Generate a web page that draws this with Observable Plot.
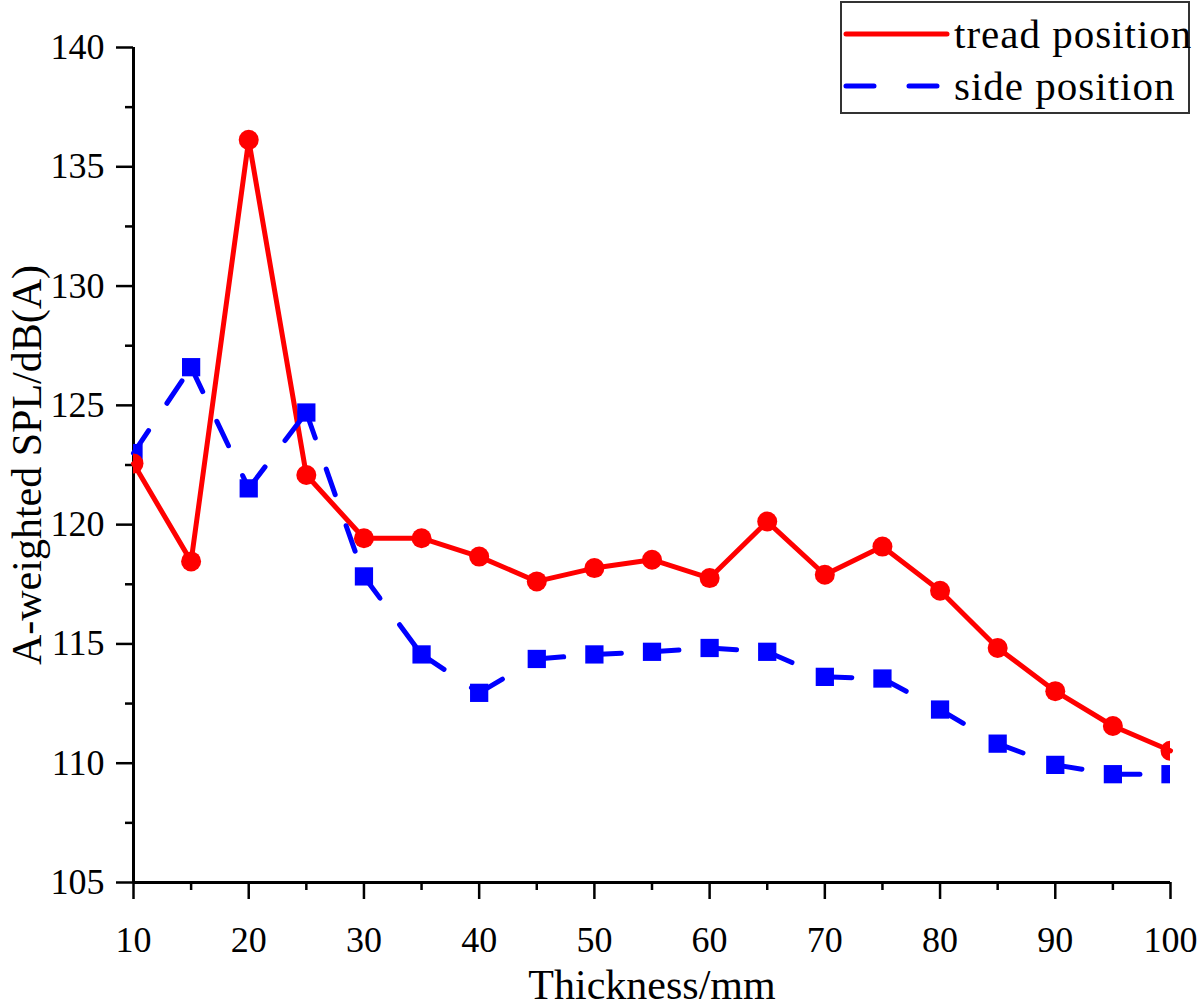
<!DOCTYPE html>
<html>
<head>
<meta charset="utf-8">
<script src="https://cdn.jsdelivr.net/npm/d3@7"></script>
<script src="https://cdn.jsdelivr.net/npm/@observablehq/plot@0.6"></script>
</head>
<body style="margin:0;padding:0;background:#fff;">
<div id="wrap" style="position:relative;width:1200px;height:1008px;overflow:hidden;font-family:'Liberation Serif', serif;">
  <div id="chart"></div>
  <div id="legend" style="position:absolute;left:840px;top:1px;width:350px;height:113px;border:2px solid #333;background:#fff;box-sizing:border-box;">
    <div style="position:absolute;left:0;top:6px;height:50px;display:flex;align-items:center;white-space:nowrap;">
      <svg width="110" height="20" style="margin-left:1px"><line x1="3" y1="10" x2="104" y2="10" stroke="#ff0000" stroke-width="5" stroke-linecap="round"/></svg>
      <span style="font-family:'Liberation Serif', serif;font-size:41px;letter-spacing:1px;color:#000;margin-left:1px;line-height:1;white-space:nowrap;">tread position</span>
    </div>
    <div style="position:absolute;left:0;top:58px;height:50px;display:flex;align-items:center;white-space:nowrap;">
      <svg width="110" height="20" style="margin-left:1px"><line x1="3" y1="10" x2="104" y2="10" stroke="#0000ff" stroke-width="5" stroke-linecap="round" stroke-dasharray="28,35"/></svg>
      <span style="font-family:'Liberation Serif', serif;font-size:41px;letter-spacing:1px;color:#000;margin-left:1px;line-height:1;white-space:nowrap;">side position</span>
    </div>
  </div>
</div>
<script>
// Data
const thickness = [10, 15, 20, 25, 30, 35, 40, 45, 50, 55, 60, 65, 70, 75, 80, 85, 90, 95, 100];
const tread = [122.56, 118.46, 136.13, 122.08, 119.43, 119.43, 118.66, 117.62, 118.18, 118.53, 117.76, 120.13, 117.9, 119.08, 117.23, 114.83, 113.02, 111.56, 110.52];
const side = [123.0, 126.6, 121.52, 124.7, 117.83, 114.56, 112.95, 114.37, 114.56, 114.67, 114.83, 114.67, 113.62, 113.55, 112.25, 110.82, 109.93, 109.54, 109.54];

const xMajorTicks = [10, 20, 30, 40, 50, 60, 70, 80, 90, 100];
const xMinorTicks = [15, 25, 35, 45, 55, 65, 75, 85, 95];
const yMajorTicks = [105, 110, 115, 120, 125, 130, 135, 140];
const yMinorTicks = [107.5, 112.5, 117.5, 122.5, 127.5, 132.5, 137.5];

const xLabel = "Thickness/mm";
const yLabel = "A-weighted SPL/dB(A)";

const treadData = thickness.map((x, i) => ({x, y: tread[i]}));
const sideData = thickness.map((x, i) => ({x, y: side[i]}));
const sideSegments = d3.pairs(sideData).map(([a, b]) => ({x1: a.x, y1: a.y, x2: b.x, y2: b.y}));

const FONT = "'Liberation Serif', serif";

const chart = Plot.plot({
  width: 1200,
  height: 1008,
  marginLeft: 133,
  marginRight: 30,
  marginTop: 47,
  marginBottom: 126,
  x: {domain: [10, 100]},
  y: {domain: [105, 140]},
  style: {fontFamily: FONT, color: "#000", background: "#fff", overflow: "visible"},
  marks: [
    Plot.axisX({ticks: xMajorTicks, tickSize: 17, tickPadding: 27, fontSize: 36, strokeWidth: 2.5, label: null, tickFormat: d => String(d)}),
    Plot.axisX({ticks: xMinorTicks, tickSize: 8, text: null, strokeWidth: 2.5, label: null}),
    Plot.axisY({ticks: yMajorTicks, tickSize: 17, tickPadding: 12, fontSize: 36, strokeWidth: 2.5, label: null, tickFormat: d => String(d)}),
    Plot.axisY({ticks: yMinorTicks, tickSize: 8, text: null, strokeWidth: 2.5, label: null}),
    Plot.ruleY([105], {strokeWidth: 3}),
    Plot.ruleX([10], {strokeWidth: 3}),
    Plot.line(treadData, {x: "x", y: "y", stroke: "#ff0000", strokeWidth: 5}),
    Plot.link(sideSegments, {x1: "x1", y1: "y1", x2: "x2", y2: "y2", stroke: "#0000ff", strokeWidth: 5, strokeDasharray: "27,33", strokeLinecap: "round"}),
    Plot.dot(sideData, {x: "x", y: "y", symbol: "square", r: 10.3, fill: "#0000ff", clip: true}),
    Plot.dot(treadData, {x: "x", y: "y", r: 10, fill: "#ff0000", clip: true}),
    Plot.text([xLabel], {frameAnchor: "bottom", dy: 116, lineAnchor: "bottom", textAnchor: "middle", fontSize: 42, text: d => d}),
    Plot.text([yLabel], {frameAnchor: "left", dx: -106, rotate: -90, fontSize: 42, textAnchor: "middle", lineAnchor: "middle", text: d => d})
  ]
});
chart.setAttribute("font-family", FONT);
d3.select(chart).selectAll("g, text").style("font-family", FONT);
document.getElementById("chart").appendChild(chart);
</script>
</body>
</html>
